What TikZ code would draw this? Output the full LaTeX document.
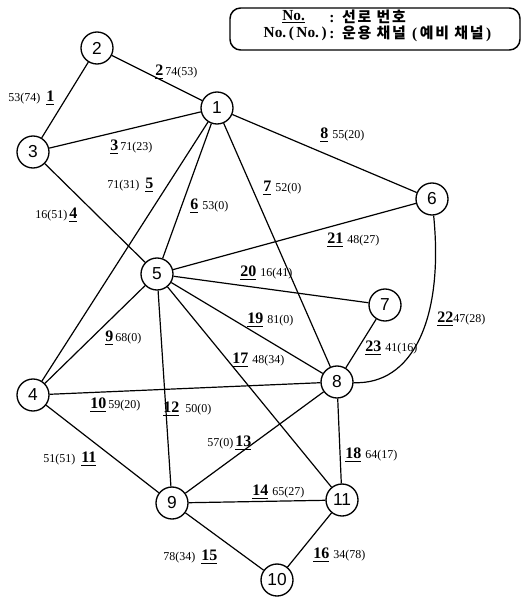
\documentclass[tikz,border=0pt]{standalone}
\usepackage{fontspec}
\setmainfont{Liberation Serif}
\newfontfamily\nodefont{Liberation Sans}
\newfontfamily\kr{Noto Sans CJK KR}[LetterSpace=12]
\newcommand\nb[1]{\underline{\fontsize{12}{14}\selectfont\bfseries #1}}
\newcommand\krt[1]{{\kr\fontsize{11.2}{13}\selectfont #1}}
\begin{document}
\begin{tikzpicture}[x=0.75pt,y=-0.75pt,
  stn/.style={circle,draw,line width=1pt,minimum size=24pt,inner sep=0pt,
    font=\nodefont\fontsize{13}{15}\selectfont,fill=white},
  link/.style={line width=0.9pt},
  lab/.style={inner sep=0pt,anchor=west,font=\fontsize{9}{11}\selectfont},
  legend/.style={inner sep=0pt,font=\fontsize{11.5}{13}\selectfont\bfseries}]
\useasboundingbox (0,0) rectangle (522,598);

% legend
\draw[line width=1.1pt,rounded corners=8pt] (230,8) rectangle (520,50);
\node[legend,anchor=west] (lg1a) at (282,17) {\underline{No.}};
\node[legend,anchor=west] (lg1b) at (329,17) {:\, \krt{선로 번호}};
\node[legend,anchor=east] (lg2a) at (327,34) {No.\,(\,No.\,)};
\node[legend,anchor=west] (lg2b) at (329,34) {:\, \krt{운용 채널}\, (\,\krt{예비 채널}\,)};

% stations
\node[stn] (n1) at (217,108) {1};
\node[stn] (n2) at (97,48) {2};
\node[stn] (n3) at (33,152) {3};
\node[stn] (n4) at (33,395) {4};
\node[stn] (n5) at (157,274) {5};
\node[stn] (n6) at (432,199) {6};
\node[stn] (n7) at (385,305) {7};
\node[stn] (n8) at (337,382) {8};
\node[stn] (n9) at (172,503) {9};
\node[stn] (n10) at (277,580) {10};
\node[stn] (n11) at (342,500) {11};

% links
\draw[link] (n2) -- (n3);
\draw[link] (n2) -- (n1);
\draw[link] (n3) -- (n1);
\draw[link] (n3) -- (n5);
\draw[link] (n1) -- (n4);
\draw[link] (n1) -- (n5);
\draw[link] (n1) -- (n8);
\draw[link] (n1) -- (n6);
\draw[link] (n4) -- (n5);
\draw[link] (n4) -- (n8);
\draw[link] (n4) -- (n9);
\draw[link] (n5) -- (n9);
\draw[link] (n8) -- (n9);
\draw[link] (n9) -- (n11);
\draw[link] (n9) -- (n10);
\draw[link] (n10) -- (n11);
\draw[link] (n5) -- (n11);
\draw[link] (n8) -- (n11);
\draw[link] (n5) -- (n8);
\draw[link] (n5) -- (n7);
\draw[link] (n5) -- (n6);
\draw[link] (n6) .. controls (444,320) and (412,385) .. (n8);
\draw[link] (n7) -- (n8);

% labels
\node[lab] (l1) at (8,98) {53(74)\enspace\nb{1}};
\node[lab] (l2) at (155,72) {\nb{2}\,74(53)};
\node[lab] (l3) at (110,147) {\nb{3}\,71(23)};
\node[lab] (l4) at (35,215) {16(51)\,\nb{4}};
\node[lab] (l5) at (107,185) {71(31)\enspace\nb{5}};
\node[lab] (l6) at (190,206) {\nb{6}\,\,53(0)};
\node[lab] (l7) at (263,188) {\nb{7}\,\,52(0)};
\node[lab] (l8) at (320,135) {\nb{8}\,\,55(20)};
\node[lab] (l9) at (105,338) {\nb{9}\,68(0)};
\node[lab] (l10) at (90,405) {\nb{10}\,59(20)};
\node[lab] (l11) at (43,459) {51(51)\enspace\nb{11}};
\node[lab] (l12) at (163,409) {\nb{12}\enspace50(0)};
\node[lab] (l13) at (207,443) {57(0)\,\nb{13}};
\node[lab] (l14) at (252,492) {\nb{14}\,\,65(27)};
\node[lab] (l15) at (163,557) {78(34)\enspace\nb{15}};
\node[lab] (l16) at (313,555) {\nb{16}\,\,34(78)};
\node[lab] (l17) at (232,360) {\nb{17}\,\,48(34)};
\node[lab] (l18) at (345,455) {\nb{18}\,\,64(17)};
\node[lab] (l19) at (247,320) {\nb{19}\,\,81(0)};
\node[lab] (l20) at (240,273) {\nb{20}\,\,16(41)};
\node[lab] (l21) at (327,240) {\nb{21}\,\,48(27)};
\node[lab] (l22) at (437,319) {\nb{22}47(28)};
\node[lab] (l23) at (365,348) {\nb{23}\,\,41(16)};
\end{tikzpicture}
\end{document}
